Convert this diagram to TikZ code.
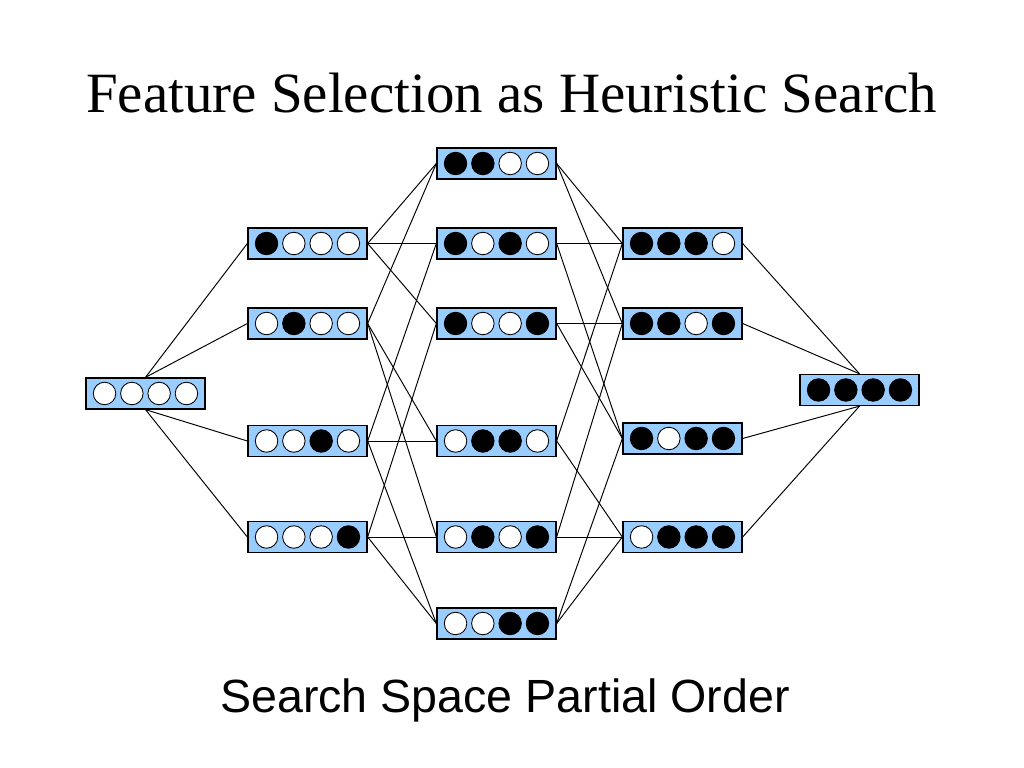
\documentclass[tikz,border=0pt]{standalone}
\usepackage{fontspec}
\setmainfont{Liberation Serif}
\newfontfamily\captionfont{Liberation Sans}
\usetikzlibrary{positioning}
\definecolor{boxblue}{RGB}{153,204,255}
% one circle per feature, filled when the feature is selected
\def\featcircles#1#2#3#4\relax{%
  \foreach \b [count=\i] in {#1,#2,#3,#4}
    \draw[feat,bit\b] ([xshift={(\i-2.5)*5.46mm}]s\n.center) circle (2.25mm);
}

\begin{document}
\begin{tikzpicture}[
  state/.style={draw=black,line width=0.75pt,fill=boxblue,minimum width=2.38cm,minimum height=0.62cm,inner sep=0pt},
  feat/.style={draw=black,line width=0.5pt},
  bit0/.style={fill=white},
  bit1/.style={fill=black},
  link/.style={draw=black,line width=0.55pt}]
\useasboundingbox (0,0) rectangle (20.48,15.36);
\node[anchor=base] (title) at (10.23,13.1) {\fontsize{32.4}{38}\selectfont Feature Selection as Heuristic Search};
\node[anchor=base] (caption) at (10.1,1.1) {\captionfont\fontsize{26.5}{32}\selectfont Search Space Partial Order};
\foreach \n/\x/\y in {0000/2.91/7.49,
    1000/6.15/10.49, 0100/6.15/8.89, 0010/6.15/6.54, 0001/6.15/4.62,
    1100/9.93/12.09, 1010/9.93/10.49, 1001/9.93/8.89, 0110/9.93/6.54, 0101/9.93/4.62, 0011/9.93/2.89,
    1110/13.65/10.49, 1101/13.65/8.89, 1011/13.65/6.59, 0111/13.65/4.62,
    1111/17.19/7.56}
{
  \node[state] (s\n) at (\x,\y) {};
  \expandafter\featcircles\n\relax
}
\draw[link] (s0000.north) -- (s1000.west);
\draw[link] (s0000.north) -- (s0100.west);
\draw[link] (s0000.south) -- (s0010.west);
\draw[link] (s0000.south) -- (s0001.west);
\foreach \a/\b in {1000/1100, 1000/1010, 1000/1001, 0100/1100, 0100/0110, 0100/0101,
    0010/1010, 0010/0110, 0010/0011, 0001/1001, 0001/0101, 0001/0011,
    1100/1110, 1100/1101, 1010/1110, 1010/1011, 1001/1101, 1001/1011,
    0110/1110, 0110/0111, 0101/1101, 0101/0111, 0011/1011, 0011/0111}
  \draw[link] (s\a.east) -- (s\b.west);
\draw[link] (s1110.east) -- (s1111.north);
\draw[link] (s1101.east) -- (s1111.north);
\draw[link] (s1011.east) -- (s1111.south);
\draw[link] (s0111.east) -- (s1111.south);
\end{tikzpicture}
\end{document}
